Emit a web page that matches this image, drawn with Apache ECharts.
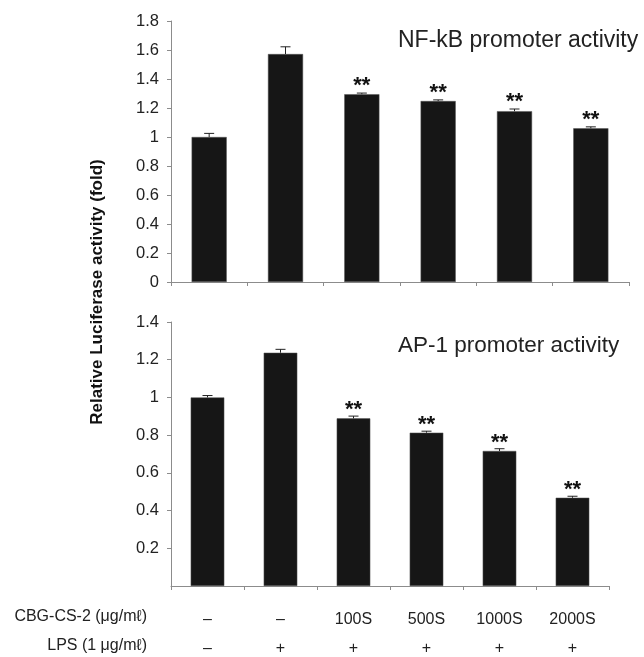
<!DOCTYPE html>
<html><head><meta charset="utf-8">
<script src="https://cdn.jsdelivr.net/npm/echarts@6/dist/echarts.min.js"></script>
<style>html,body{margin:0;padding:0;background:#fff}#c{width:644px;height:657px}</style>
</head><body><div id="c"></div>
<script>
const categories = ['G1','G2','G3','G4','G5','G6'];
const cbgLabels = ['–','–','100S','500S','1000S','2000S'];
const lpsLabels = ['–','+','+','+','+','+'];
const nfkbValues = [1.00, 1.572, 1.295, 1.248, 1.178, 1.060];
const nfkbErrors = [0.025, 0.050, 0.008, 0.008, 0.015, 0.010];
const ap1Values = [1.000, 1.237, 0.889, 0.813, 0.716, 0.468];
const ap1Errors = [0.010, 0.018, 0.012, 0.008, 0.012, 0.008];
const sigMarks = ['', '', '**', '**', '**', '**'];
const nfkbTicks = [0, 1.8, 0.2];
const ap1Ticks = [0, 1.4, 0.2];

const chart = echarts.init(document.getElementById('c'));
const FONT = 'Liberation Sans, Arial, sans-serif';
const axisGray = '#8c8c8c';

function errSeries(xi, yi, vals, errs, gap) {
  return {
    type: 'custom', xAxisIndex: xi, yAxisIndex: yi, z: 10,
    data: vals.map((v, i) => [i, v, errs[i]]),
    renderItem: function (params, api) {
      const i = api.value(0), v = api.value(1), e = api.value(2);
      const p0 = api.coord([i, v]);
      const p1 = api.coord([i, v + e]);
      const w = 5;
      const children = [
        {type: 'line', shape: {x1: p0[0], y1: p0[1], x2: p1[0], y2: p1[1]}, style: {stroke: '#222', lineWidth: 1}},
        {type: 'line', shape: {x1: p1[0] - w, y1: p1[1], x2: p1[0] + w, y2: p1[1]}, style: {stroke: '#222', lineWidth: 1}}
      ];
      const s = sigMarks[params.dataIndex];
      if (s) {
        children.push({type: 'text', style: {text: s, x: p1[0], y: p1[1] - gap, align: 'center', verticalAlign: 'middle', font: 'bold 22px ' + FONT, fill: '#111'}});
      }
      return {type: 'group', children: children};
    }
  };
}

const yAxisCommon = {
  type: 'value',
  axisLine: {show: true, lineStyle: {color: axisGray, width: 1}},
  axisTick: {show: true, length: 4, lineStyle: {color: axisGray}},
  splitLine: {show: false},
  axisLabel: {color: '#222', fontSize: 16.5, fontFamily: FONT, margin: 12,
    formatter: v => String(Math.round(v * 10) / 10)}
};

chart.setOption({
  animation: false,
  grid: [
    {left: 171, top: 21, width: 458, height: 261, outerBoundsMode: 'none', containLabel: false},
    {left: 171, top: 322, width: 438, height: 264, outerBoundsMode: 'none', containLabel: false}
  ],
  xAxis: [
    {type: 'category', gridIndex: 0, data: categories, boundaryGap: true,
      axisLine: {lineStyle: {color: axisGray}}, axisTick: {show: true, length: 4, lineStyle: {color: axisGray}},
      axisLabel: {show: false}},
    {type: 'category', gridIndex: 1, data: categories, boundaryGap: true,
      axisLine: {lineStyle: {color: axisGray}}, axisTick: {show: true, length: 4, lineStyle: {color: axisGray}},
      axisLabel: {show: true, margin: 19, color: '#222', fontSize: 16, fontFamily: FONT, lineHeight: 29,
        formatter: (v, i) => cbgLabels[i] + '\n' + lpsLabels[i]}}
  ],
  yAxis: [
    Object.assign({}, yAxisCommon, {gridIndex: 0, min: nfkbTicks[0], max: nfkbTicks[1], interval: nfkbTicks[2]}),
    Object.assign({}, yAxisCommon, {gridIndex: 1, min: ap1Ticks[0], max: ap1Ticks[1], interval: ap1Ticks[2],
      axisLabel: Object.assign({}, yAxisCommon.axisLabel, {showMinLabel: false})})
  ],
  series: [
    {type: 'bar', xAxisIndex: 0, yAxisIndex: 0, data: nfkbValues, barWidth: '46%',
      itemStyle: {color: '#161616', borderColor: '#555', borderWidth: 0.5}},
    {type: 'bar', xAxisIndex: 1, yAxisIndex: 1, data: ap1Values, barWidth: '46%',
      itemStyle: {color: '#161616', borderColor: '#555', borderWidth: 0.5}},
    errSeries(0, 0, nfkbValues, nfkbErrors, 7),
    errSeries(1, 1, ap1Values, ap1Errors, 6)
  ],
  graphic: [
    {type: 'text', x: 398, y: 41, style: {text: 'NF-kB promoter activity', font: '23px ' + FONT, fill: '#222', verticalAlign: 'middle'}},
    {type: 'text', x: 398, y: 346, style: {text: 'AP-1 promoter activity', font: '22.5px ' + FONT, fill: '#222', verticalAlign: 'middle'}},
    {type: 'text', x: 97, y: 292, rotation: Math.PI / 2,
      style: {text: 'Relative Luciferase activity (fold)', font: 'bold 17px ' + FONT, fill: '#111', align: 'center', verticalAlign: 'middle'}},
    {type: 'text', x: 147, y: 617, style: {text: 'CBG-CS-2 ({u|μg/mℓ})', font: '16px ' + FONT, fill: '#222', align: 'right', verticalAlign: 'middle',
      rich: {u: {font: '16px ' + FONT, fill: '#222'}}}},
    {type: 'text', x: 147, y: 646, style: {text: 'LPS (1 {u|μg/mℓ})', font: '16px ' + FONT, fill: '#222', align: 'right', verticalAlign: 'middle',
      rich: {u: {font: '16px ' + FONT, fill: '#222'}}}}
  ]
});
</script></body></html>
